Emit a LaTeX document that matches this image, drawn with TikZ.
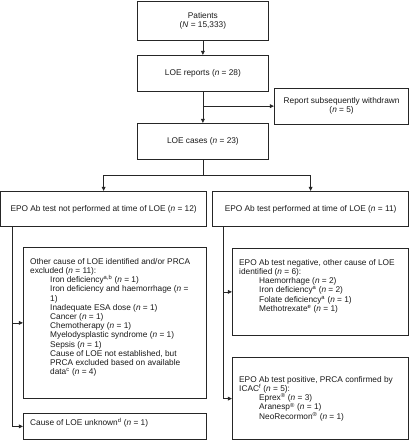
\documentclass[tikz,border=0pt]{standalone}
\usepackage{fontspec}
\setmainfont{Liberation Sans}
\usetikzlibrary{arrows.meta}
\newcommand\boxfont{\fontsize{8.3}{9.2}\selectfont}
\newcommand\listindent{\hspace*{20pt}}

\begin{document}
\begin{tikzpicture}[x=1pt,y=-1pt,
	box/.style={draw=black!85,line width=0.8pt,anchor=north west,inner sep=0pt,font=\boxfont,align=center,text=black!90},
	listtext/.style={font=\boxfont,align=left,inner sep=0pt,anchor=north west,text=black!90},
	plain/.style={draw=black!85,line width=0.8pt},
	link/.style={plain,-{Triangle[length=4.2pt,width=3.8pt]}}]
	\useasboundingbox (0,0) rectangle (409,440);
	\node[box,minimum width=131pt,minimum height=39.4pt] (patients) at (137,0.6) {Patients\\(\textit{N} = 15,333)};
	\node[box,minimum width=131pt,minimum height=36pt] (reports) at (137,55) {LOE reports (\textit{n} = 28)};
	\node[box,minimum width=134.4pt,minimum height=35.5pt] (withdrawn) at (274,88) {Report subsequently withdrawn\\(\textit{n} = 5)};
	\node[box,minimum width=131pt,minimum height=36pt] (cases) at (137,123) {LOE cases (\textit{n} = 23)};
	\node[box,minimum width=205.5pt,minimum height=35pt] (epoL) at (0.5,191) {EPO Ab test not performed at time of LOE (\textit{n} = 12)};
	\node[box,minimum width=196.4pt,minimum height=35pt] (epoR) at (212,191) {EPO Ab test performed at time of LOE (\textit{n} = 11)};
	\node[box,minimum width=183pt,minimum height=151pt] (other) at (23,247) {};
	\node[box,minimum width=183pt,minimum height=26pt] (unknown) at (23,413) {};
	\node[box,minimum width=176.4pt,minimum height=87pt] (negative) at (232,248) {};
	\node[box,minimum width=176.4pt,minimum height=82.4pt] (positive) at (232,357) {};

	\node[listtext] (othertext) at ([xshift=7pt,yshift=-11pt]other.north west) {Other cause of LOE identified and/or PRCA\\
		excluded (\textit{n} = 11):\\
		\listindent Iron deficiency\textsuperscript{a,b} (\textit{n} = 1)\\
		\listindent Iron deficiency and haemorrhage (\textit{n} =\\
		\listindent 1)\\
		\listindent Inadequate ESA dose (\textit{n} = 1)\\
		\listindent Cancer (\textit{n} = 1)\\
		\listindent Chemotherapy (\textit{n} = 1)\\
		\listindent Myelodysplastic syndrome (\textit{n} = 1)\\
		\listindent Sepsis (\textit{n} = 1)\\
		\listindent Cause of LOE not established, but\\
		\listindent PRCA excluded based on available\\
		\listindent data\textsuperscript{c} (\textit{n} = 4)};
	\node[listtext] (unknowntext) at ([xshift=7pt,yshift=-5pt]unknown.north west) {Cause of LOE unknown\textsuperscript{d} (\textit{n} = 1)};
	\node[listtext] (negativetext) at ([xshift=7pt,yshift=-11pt]negative.north west) {EPO Ab test negative, other cause of LOE\\
		identified (\textit{n} = 6):\\
		\listindent Haemorrhage (\textit{n} = 2)\\
		\listindent Iron deficiency\textsuperscript{a} (\textit{n} = 2)\\
		\listindent Folate deficiency\textsuperscript{a} (\textit{n} = 1)\\
		\listindent Methotrexate\textsuperscript{e} (\textit{n} = 1)};
	\node[listtext,anchor=west] (positivetext) at ([xshift=7pt]positive.west) {EPO Ab test positive, PRCA confirmed by\\
		ICAC\textsuperscript{f} (\textit{n} = 5):\\
		\listindent Eprex\textsuperscript{®} (\textit{n} = 3)\\
		\listindent Aranesp\textsuperscript{®} (\textit{n} = 1)\\
		\listindent NeoRecormon\textsuperscript{®} (\textit{n} = 1)};

	\draw[link] (patients) -- (reports);
	\draw[link] (reports) -- (cases);
	\draw[link] (reports.south |- withdrawn.west) -- (withdrawn.west);
	\coordinate (split) at ([yshift=-16pt]cases.south);
	\draw[plain] (cases) -- (split);
	\draw[link] (split) -| (epoL.north);
	\draw[link] (split) -| (epoR.north);
	\draw[link] ([xshift=11.5pt]epoL.south west) |- (other.west);
	\draw[link] ([xshift=11.5pt]epoL.south west) |- (unknown.west);
	\draw[link] ([xshift=11pt]epoR.south west) |- (negative.west);
	\draw[link] ([xshift=11pt]epoR.south west) |- (positive.west);
\end{tikzpicture}
\end{document}
